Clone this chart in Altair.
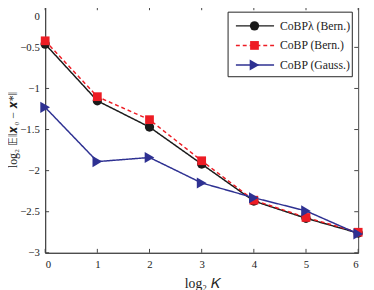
import altair as alt
import pandas as pd

log2K = [0, 1, 2, 3, 4, 5, 6]
cobp_lambda_bern = [-0.46, -1.15, -1.47, -1.92, -2.37, -2.58, -2.76]
cobp_bern = [-0.42, -1.10, -1.38, -1.88, -2.36, -2.57, -2.75]
cobp_gauss = [-1.23, -1.89, -1.84, -2.15, -2.33, -2.49, -2.77]
y_ticks = [0, -0.5, -1, -1.5, -2, -2.5, -3]

series_names = ["CoBPλ (Bern.)", "CoBP (Bern.)", "CoBP (Gauss.)"]
colors = ["#1a1a1a", "#ed1c24", "#2e3192"]
dashes = [[1, 0], [4, 3], [1, 0]]
marker_shapes = ["circle", "square", "triangle-right"]
marker_sizes = [90, 80, 130]

rows = []
for name, vals in zip(series_names, [cobp_lambda_bern, cobp_bern, cobp_gauss]):
    for k, v in zip(log2K, vals):
        rows.append({"k": k, "v": v, "series": name})
df = pd.DataFrame(rows)

W, H = 320, 252
xs = alt.Scale(domain=[0, 6], nice=False)
ys = alt.Scale(domain=[-3, 0], nice=False)
col = alt.Scale(domain=series_names, range=colors)
dsh = alt.Scale(domain=series_names, range=dashes)

FONT = "Liberation Serif"
AX = "#444444"
TXT = "#222222"

xax = alt.Axis(values=log2K, title="log₂ 𝐾", grid=False, ticks=False,
               labelPadding=6, titlePadding=8)
yax = alt.Axis(values=y_ticks, format="~g", title="log₂ 𝔼‖𝒙₀ − 𝒙*‖",
               grid=False, ticks=False, labelPadding=6,
               labelBaseline={"condition": {"test": "datum.value == 0", "value": "top"},
                              "value": "middle"},
               labelOffset={"condition": {"test": "datum.value == 0", "value": 5},
                            "value": 0},
               titleX=-26, titleBaseline="bottom", titleFontSize=12)

base = alt.Chart(df)
lines = base.mark_line(strokeWidth=1.5).encode(
    x=alt.X("k:Q", scale=xs, axis=xax),
    y=alt.Y("v:Q", scale=ys, axis=yax),
    color=alt.Color("series:N", scale=col, legend=None),
    strokeDash=alt.StrokeDash("series:N", scale=dsh, legend=None),
    detail="series:N",
)

# inward tick marks on all four sides
xt = alt.Chart(pd.DataFrame({"k": log2K}))
yt = alt.Chart(pd.DataFrame({"v": y_ticks}))
tick_layers = [
    xt.mark_rule(color=AX).encode(x=alt.X("k:Q", scale=xs), y=alt.value(H - 4), y2=alt.value(H)),
    xt.mark_rule(color=AX).encode(x=alt.X("k:Q", scale=xs), y=alt.value(0), y2=alt.value(4)),
    yt.mark_rule(color=AX).encode(y=alt.Y("v:Q", scale=ys), x=alt.value(0), x2=alt.value(4)),
    yt.mark_rule(color=AX).encode(y=alt.Y("v:Q", scale=ys), x=alt.value(W - 4), x2=alt.value(W)),
]

pts = []
for name, c, shp, sz in zip(series_names, colors, marker_shapes, marker_sizes):
    pts.append(
        alt.Chart(df[df.series == name]).mark_point(
            filled=True, shape=shp, size=sz, color=c, opacity=1
        ).encode(x=alt.X("k:Q", scale=xs), y=alt.Y("v:Q", scale=ys))
    )

# hand-built legend box (inside top-right of plot)
one = alt.Chart(pd.DataFrame({"a": [0]}))
LX0, LX1, LY0, LY1 = 187, 314, 6, 72
leg = [
    one.mark_rect(fill="white", stroke=TXT, strokeWidth=1).encode(
        x=alt.value(LX0), x2=alt.value(LX1), y=alt.value(LY0), y2=alt.value(LY1))
]
for i, (name, c, d, shp, sz) in enumerate(zip(series_names, colors, dashes, marker_shapes, marker_sizes)):
    yy = 20 + 20 * i
    leg.append(one.mark_rule(color=c, strokeWidth=1.5, strokeDash=d).encode(
        x=alt.value(195), x2=alt.value(234), y=alt.value(yy)))
    leg.append(one.mark_point(filled=True, shape=shp, size=sz, color=c, opacity=1).encode(
        x=alt.value(214), y=alt.value(yy)))
    leg.append(one.mark_text(align="left", baseline="middle", font=FONT, fontSize=12, color=TXT).encode(
        x=alt.value(240), y=alt.value(yy), text=alt.value(name)))

chart = alt.layer(*tick_layers, lines, *pts, *leg).resolve_scale(
    color="independent", strokeDash="independent"
).properties(
    width=W, height=H,
    padding={"left": 38, "top": -5, "right": 8, "bottom": 45},
    autosize=alt.AutoSizeParams(type="none"),
).configure_view(stroke=AX, strokeWidth=1).configure_axis(
    domainColor=AX, labelFont=FONT, titleFont=FONT,
    labelFontSize=11, titleFontSize=14, labelColor=TXT, titleColor=TXT,
    titleFontWeight="normal",
)

chart.save("out.html", embed_options={"renderer": "svg", "actions": False})
